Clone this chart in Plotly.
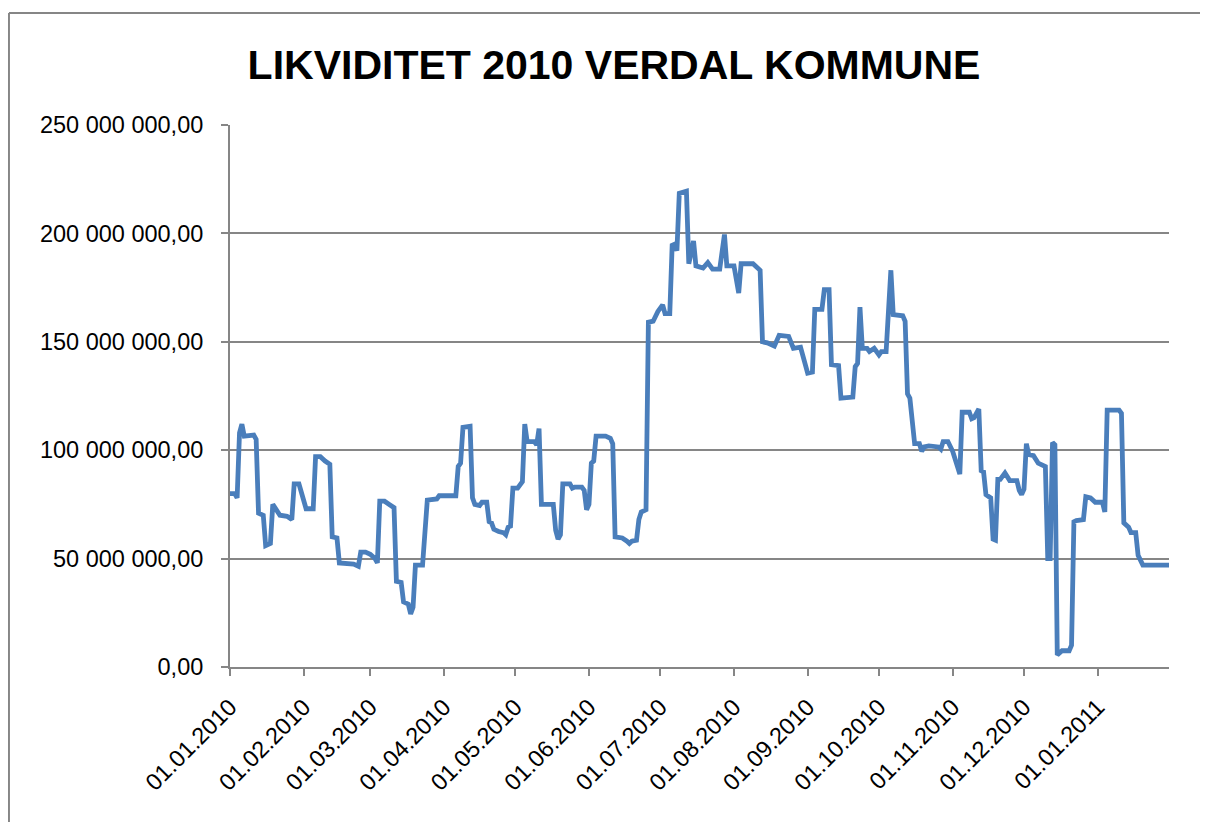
import plotly.graph_objects as go

# Dates (dd.mm.yyyy) and liquidity in million NOK
dates = [
    "2010-01-01", "2010-01-03", "2010-01-04", "2010-01-05", "2010-01-06", "2010-01-07",
    "2010-01-11", "2010-01-12", "2010-01-13", "2010-01-15", "2010-01-16", "2010-01-18",
    "2010-01-19", "2010-01-22", "2010-01-25", "2010-01-27", "2010-01-28", "2010-01-30",
    "2010-02-02", "2010-02-05", "2010-02-06", "2010-02-08", "2010-02-10", "2010-02-12",
    "2010-02-13", "2010-02-15", "2010-02-16", "2010-02-22", "2010-02-24", "2010-02-25",
    "2010-02-27", "2010-03-01", "2010-03-03", "2010-03-04", "2010-03-05", "2010-03-07",
    "2010-03-09", "2010-03-11", "2010-03-12", "2010-03-14", "2010-03-15", "2010-03-17",
    "2010-03-18", "2010-03-19", "2010-03-20", "2010-03-23", "2010-03-25", "2010-03-29",
    "2010-03-30", "2010-04-06", "2010-04-07", "2010-04-08", "2010-04-09", "2010-04-12",
    "2010-04-13", "2010-04-14", "2010-04-16", "2010-04-17", "2010-04-19", "2010-04-20",
    "2010-04-21", "2010-04-22", "2010-04-24", "2010-04-26", "2010-04-27", "2010-04-28",
    "2010-04-29", "2010-04-30", "2010-05-02", "2010-05-04", "2010-05-05", "2010-05-06",
    "2010-05-09", "2010-05-10", "2010-05-11", "2010-05-12", "2010-05-17", "2010-05-18",
    "2010-05-19", "2010-05-20", "2010-05-21", "2010-05-24", "2010-05-25", "2010-05-26",
    "2010-05-29", "2010-05-30", "2010-05-31", "2010-06-01", "2010-06-02", "2010-06-03",
    "2010-06-04", "2010-06-08", "2010-06-10", "2010-06-11", "2010-06-12", "2010-06-15",
    "2010-06-17", "2010-06-18", "2010-06-19", "2010-06-21", "2010-06-22", "2010-06-23",
    "2010-06-25", "2010-06-26", "2010-06-28", "2010-06-29", "2010-06-30", "2010-07-02",
    "2010-07-03", "2010-07-05", "2010-07-06", "2010-07-07", "2010-07-08", "2010-07-09",
    "2010-07-12", "2010-07-13", "2010-07-15", "2010-07-16", "2010-07-19", "2010-07-21",
    "2010-07-23", "2010-07-26", "2010-07-28", "2010-07-29", "2010-08-01", "2010-08-03",
    "2010-08-04", "2010-08-09", "2010-08-12", "2010-08-13", "2010-08-15", "2010-08-18",
    "2010-08-20", "2010-08-24", "2010-08-26", "2010-08-29", "2010-09-01", "2010-09-03",
    "2010-09-04", "2010-09-07", "2010-09-08", "2010-09-10", "2010-09-11", "2010-09-14",
    "2010-09-15", "2010-09-20", "2010-09-21", "2010-09-22", "2010-09-23", "2010-09-24",
    "2010-09-26", "2010-09-27", "2010-09-29", "2010-10-01", "2010-10-02", "2010-10-04",
    "2010-10-06", "2010-10-07", "2010-10-11", "2010-10-12", "2010-10-13", "2010-10-14",
    "2010-10-16", "2010-10-18", "2010-10-19", "2010-10-20", "2010-10-22", "2010-10-26",
    "2010-10-27", "2010-10-28", "2010-10-30", "2010-11-01", "2010-11-03", "2010-11-04",
    "2010-11-05", "2010-11-08", "2010-11-09", "2010-11-10", "2010-11-12", "2010-11-13",
    "2010-11-14", "2010-11-15", "2010-11-17", "2010-11-18", "2010-11-19", "2010-11-20",
    "2010-11-21", "2010-11-23", "2010-11-25", "2010-11-28", "2010-11-29", "2010-11-30",
    "2010-12-01", "2010-12-02", "2010-12-03", "2010-12-05", "2010-12-07", "2010-12-10",
    "2010-12-11", "2010-12-12", "2010-12-13", "2010-12-14", "2010-12-15", "2010-12-17",
    "2010-12-20", "2010-12-21", "2010-12-22", "2010-12-23", "2010-12-26", "2010-12-27",
    "2010-12-29", "2010-12-31", "2011-01-03", "2011-01-04", "2011-01-05", "2011-01-10",
    "2011-01-11", "2011-01-12", "2011-01-14", "2011-01-15", "2011-01-17", "2011-01-18",
    "2011-01-20", "2011-01-31",
]

saldo_mill = [
    80, 80, 78, 108, 112, 106.5,
    107, 105, 71, 70, 56, 57,
    75, 70, 69.5, 68, 84.5, 84.5,
    73, 73, 97, 97, 95, 93.5,
    60, 59.5, 48, 47.5, 46.5, 53,
    53, 52, 50, 48, 76.5, 76.5,
    75, 73.5, 39.5, 39, 30, 29,
    24.5, 27.5, 47, 47, 77, 77.5,
    79, 79, 92.5, 94, 110.5, 111,
    78, 75, 74.5, 76, 76, 67,
    66.5, 63.5, 62.5, 62, 61, 64.5,
    65, 82.5, 82.5, 85.5, 112, 104,
    104, 102.5, 110, 75, 75, 63,
    59, 61, 84.5, 84.5, 82.5, 83,
    83, 81.5, 72.5, 75, 94, 95,
    106.5, 106.5, 105.5, 103, 60, 59.5,
    58, 57, 58, 58.5, 68, 71.5,
    72.5, 159, 159.5, 162.5, 164, 167,
    163, 163, 194.5, 195, 192, 218.5,
    219.5, 186, 196.5, 185, 184, 186.5,
    183.5, 183.5, 199.5, 185, 185, 172.5,
    186, 186, 183, 150, 149.5, 148,
    153, 152.5, 147, 147.5, 135.5, 136,
    165, 165, 174, 174, 139.5, 139,
    124, 124.5, 138.5, 140, 166, 147,
    147, 145.5, 147, 144, 145.5, 145.5,
    183, 162.5, 162, 159.5, 126, 124,
    103, 103, 99.5, 101.5, 102, 101.5,
    100.5, 104, 104, 99.5, 93, 89,
    117.5, 117.5, 114.5, 115, 119, 90.5,
    90, 79.5, 78, 59, 58.5, 86.5,
    86.5, 89.5, 86, 86, 81.5, 79.5,
    82, 103, 98, 97.5, 94, 92.5,
    50, 50, 103.5, 102.5, 5.5, 7.5,
    7.5, 10, 67, 67.5, 68, 78.5,
    78, 76, 76, 71.5, 118.5, 118.5,
    117, 66.5, 64.5, 62, 62, 51.5,
    47, 47,
]

saldo = [v * 1_000_000 for v in saldo_mill]

title_text = "LIKVIDITET 2010 VERDAL KOMMUNE"
x_range = ["2010-01-01", "2011-01-31"]
y_range = [0, 250_000_000]

GRID = "#868686"
LINE = "#4a7ebb"

fig = go.Figure()
fig.add_trace(go.Scatter(
    x=dates, y=saldo, mode="lines",
    line=dict(color=LINE, width=4.8),
    showlegend=False, hoverinfo="skip",
))

# outer chart frame (left and top edges visible in reference)
fig.add_shape(type="line", xref="paper", yref="paper",
              x0=-0.2354, x1=-0.2354, y0=-0.4, y1=1.2066,
              line=dict(color=GRID, width=2))
fig.add_shape(type="line", xref="paper", yref="paper",
              x0=-0.2354, x1=1.0415, y0=1.2066, y1=1.2066,
              line=dict(color=GRID, width=2))

fig.update_layout(
    width=1200, height=814,
    margin=dict(l=222, r=39, t=117, b=155),
    paper_bgcolor="white", plot_bgcolor="white",
    separators=", ",
    font=dict(family="Liberation Sans, Arial, sans-serif", color="black"),
    title=dict(
        text="<b>" + title_text + "</b>",
        font=dict(size=41, family="Liberation Sans, Arial, sans-serif", color="black"),
        x=0.505, xanchor="center", xref="container",
        y=0.931, yanchor="middle", yref="container",
    ),
    xaxis=dict(
        type="date", range=x_range,
        tick0="2010-01-01", dtick="M1", tickformat="%d.%m.%Y",
        tickangle=-45, tickfont=dict(size=23.5),
        showgrid=False, zeroline=False,
        showline=True, linecolor=GRID, linewidth=2,
        ticks="outside", ticklen=7, tickcolor=GRID, tickwidth=2,
        ticklabelstandoff=8,
    ),
    yaxis=dict(
        range=y_range, dtick=50_000_000, tickformat=",.2f",
        tickfont=dict(size=23.5),
        showgrid=True, gridcolor=GRID, gridwidth=1.6,
        zeroline=False,
        showline=True, linecolor=GRID, linewidth=2,
        ticks="outside", ticklen=7, tickcolor=GRID, tickwidth=2,
        ticklabelstandoff=13,
    ),
)

fig.write_html("out.html")
